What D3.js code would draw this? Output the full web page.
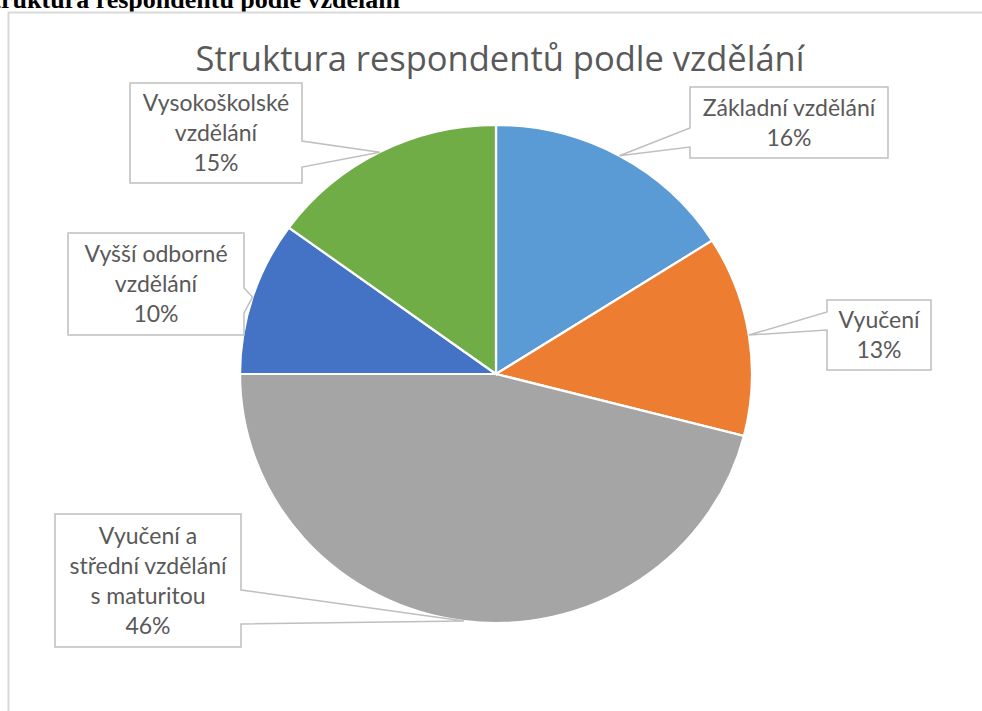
<!DOCTYPE html>
<html>
<head>
<meta charset="utf-8">
<script src="https://cdn.jsdelivr.net/npm/d3@7"></script>
<style>
  body { margin: 0; background: #fff; }
  svg { display: block; }
</style>
</head>
<body>
<svg id="chart" width="982" height="711"></svg>
<script>
(function () {
    // data
    const categories = ["Základní vzdělání", "Vyučení", "Vyučení a střední vzdělání s maturitou", "Vyšší odborné vzdělání", "Vysokoškolské vzdělání"];
    const values = [16, 13, 46, 10, 15];
    // label lines as they wrap in the callouts
    const labelLines = [
        ["Základní vzdělání"],
        ["Vyučení"],
        ["Vyučení a", "střední vzdělání", "s maturitou"],
        ["Vyšší odborné", "vzdělání"],
        ["Vysokoškolské", "vzdělání"]
    ];
    const colors = ["#5B9BD5", "#ED7D31", "#A5A5A5", "#4472C4", "#70AD47"];

    // callout boxes (layout only): x, y, w, h, side the pointer leaves from, pointer root ys
    const boxes = [
        { x: 690, y: 87, w: 198, h: 71, side: "left", y1: 128, y2: 147 },
        { x: 827, y: 300, w: 104, h: 70, side: "left", y1: 312, y2: 330 },
        { x: 55, y: 514, w: 186, h: 133, side: "right", y1: 590, y2: 624 },
        { x: 68, y: 233, w: 176, h: 102, side: "right", y1: 288, y2: 313 },
        { x: 130, y: 83, w: 172, h: 100, side: "right", y1: 141, y2: 167 }
    ];

    const svg = d3.select("#chart");
    const cx = 496, cy = 374, r = 249, sx = 256 / 249;
    const lineH = 30;

    // page heading (cut off at the top, as in the document)
    svg.append("text")
        .attr("x", 400).attr("y", 8)
        .attr("text-anchor", "end")
        .style("font-family", "'Liberation Serif', serif")
        .style("font-weight", "bold")
        .style("font-size", "26px")
        .style("fill", "#000")
        .text("Struktura respondentů podle vzdělání");

    // chart frame
    svg.append("rect")
        .attr("x", 8.5).attr("y", 12.5)
        .attr("width", 1000).attr("height", 760)
        .style("fill", "none")
        .style("stroke", "#D9D9D9")
        .style("stroke-width", 2);

    // title
    svg.append("text")
        .attr("x", 500).attr("y", 71)
        .attr("text-anchor", "middle")
        .style("font-family", "'Open Sans', sans-serif")
        .style("font-size", "34.5px")
        .style("fill", "#595959")
        .text("Struktura respondentů podle vzdělání");

    const pie = d3.pie().sort(null).value(d => d)(values);
    const arc = d3.arc().innerRadius(0).outerRadius(r);

    const g = svg.append("g")
        .attr("transform", `translate(${cx},${cy}) scale(${sx},1)`);

    g.selectAll("path")
        .data(pie)
        .enter()
        .append("path")
        .attr("d", arc)
        .style("fill", (d, i) => colors[i])
        .style("stroke", "#fff")
        .style("stroke-width", 2.2);

    // callouts
    const total = d3.sum(values);
    const labels = svg.append("g");
    pie.forEach((d, i) => {
        const b = boxes[i];
        const a = (d.startAngle + d.endAngle) / 2;
        const px = cx + Math.sin(a) * r * sx;
        const py = cy - Math.cos(a) * r;
        let p;
        if (b.side === "left") {
            p = [[b.x, b.y], [b.x + b.w, b.y], [b.x + b.w, b.y + b.h], [b.x, b.y + b.h],
                 [b.x, b.y2], [px, py], [b.x, b.y1]];
        } else {
            const xr = b.x + b.w;
            p = [[b.x, b.y], [xr, b.y], [xr, b.y1], [px, py], [xr, b.y2],
                 [xr, b.y + b.h], [b.x, b.y + b.h]];
        }
        labels.append("path")
            .attr("d", "M" + p.map(q => q.join(",")).join("L") + "Z")
            .style("fill", "#fff")
            .style("stroke", "#BFBFBF")
            .style("stroke-width", 1.5);

        const lines = labelLines[i].concat([Math.round(values[i] / total * 100) + "%"]);
        const midX = b.x + b.w / 2;
        const firstY = b.y + b.h / 2 - (lines.length - 1) * lineH / 2 + 8;
        const t = labels.append("text")
            .attr("text-anchor", "middle")
            .style("font-family", "Lato, 'Open Sans', sans-serif")
            .style("font-size", "23px")
            .style("fill", "#595959");
        lines.forEach((s, k) => {
            t.append("tspan")
                .attr("x", midX)
                .attr("y", firstY + k * lineH)
                .text(s);
        });
    });
})();
</script>
</body>
</html>
